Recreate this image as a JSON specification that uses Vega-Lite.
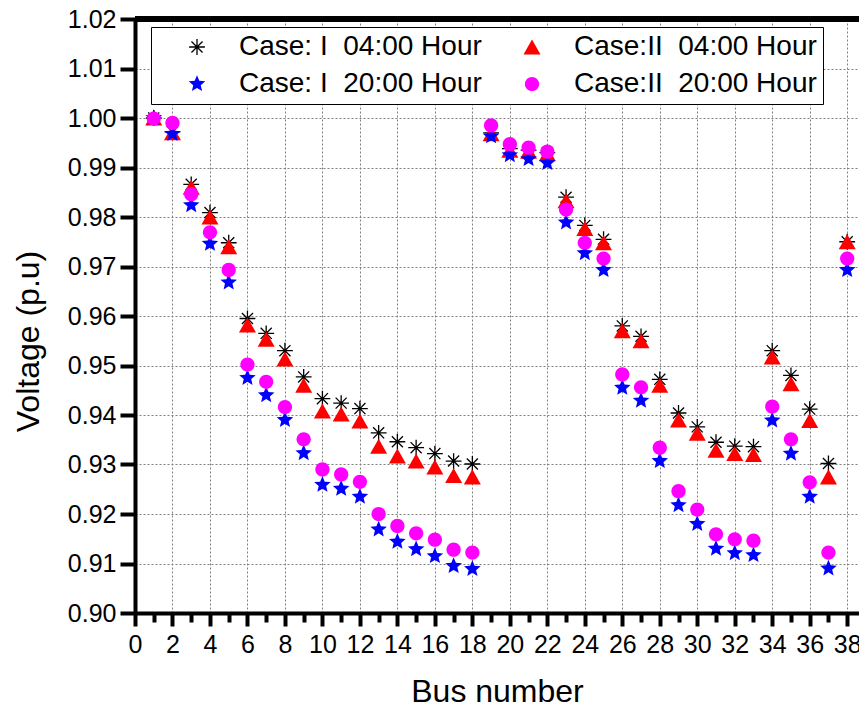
{
  "$schema": "https://vega.github.io/schema/vega-lite/v6.json",
  "autosize": {"type": "none"},
  "padding": {"left": 135, "top": 19, "right": 0, "bottom": 100},
  "width": 724,
  "height": 594,
  "background": "white",
  "config": {
    "font": "Liberation Sans",
    "view": {"stroke": null},
    "legend": {
      "orient": "none", "legendX": 16, "legendY": 8, "columns": 2,
      "title": null, "strokeColor": "black", "fillColor": "white",
      "padding": 6, "rowPadding": 9, "columnPadding": 10,
      "symbolOffset": 26, "labelOffset": 28, "symbolSize": 250, "symbolStrokeWidth": 1.3,
      "labelFontSize": 28, "labelColor": "black", "labelLimit": 0
    }
  },
  "data": {"values": [
    {"b":1,"s":"I04","v":1.0},{"b":2,"s":"I04","v":0.9972},{"b":3,"s":"I04","v":0.9866},{"b":4,"s":"I04","v":0.9809},{"b":5,"s":"I04","v":0.9748},{"b":6,"s":"I04","v":0.9595},{"b":7,"s":"I04","v":0.9565},{"b":8,"s":"I04","v":0.953},{"b":9,"s":"I04","v":0.9477},{"b":10,"s":"I04","v":0.9433},{"b":11,"s":"I04","v":0.9424},{"b":12,"s":"I04","v":0.9413},{"b":13,"s":"I04","v":0.9364},{"b":14,"s":"I04","v":0.9346},{"b":15,"s":"I04","v":0.9334},{"b":16,"s":"I04","v":0.9322},{"b":17,"s":"I04","v":0.9307},{"b":18,"s":"I04","v":0.9301},{"b":19,"s":"I04","v":0.997},{"b":20,"s":"I04","v":0.9938},{"b":21,"s":"I04","v":0.9935},{"b":22,"s":"I04","v":0.993},{"b":23,"s":"I04","v":0.984},{"b":24,"s":"I04","v":0.9783},{"b":25,"s":"I04","v":0.9755},{"b":26,"s":"I04","v":0.958},{"b":27,"s":"I04","v":0.9559},{"b":28,"s":"I04","v":0.9472},{"b":29,"s":"I04","v":0.9404},{"b":30,"s":"I04","v":0.9376},{"b":31,"s":"I04","v":0.9345},{"b":32,"s":"I04","v":0.9337},{"b":33,"s":"I04","v":0.9336},{"b":34,"s":"I04","v":0.953},{"b":35,"s":"I04","v":0.948},{"b":36,"s":"I04","v":0.9412},{"b":37,"s":"I04","v":0.9302},{"b":38,"s":"I04","v":0.975},
    {"b":1,"s":"II04","v":1.0},{"b":2,"s":"II04","v":0.997},{"b":3,"s":"II04","v":0.986},{"b":4,"s":"II04","v":0.98},{"b":5,"s":"II04","v":0.974},{"b":6,"s":"II04","v":0.9582},{"b":7,"s":"II04","v":0.9553},{"b":8,"s":"II04","v":0.9513},{"b":9,"s":"II04","v":0.946},{"b":10,"s":"II04","v":0.9408},{"b":11,"s":"II04","v":0.9402},{"b":12,"s":"II04","v":0.9388},{"b":13,"s":"II04","v":0.9337},{"b":14,"s":"II04","v":0.9317},{"b":15,"s":"II04","v":0.9307},{"b":16,"s":"II04","v":0.9295},{"b":17,"s":"II04","v":0.9278},{"b":18,"s":"II04","v":0.9275},{"b":19,"s":"II04","v":0.9968},{"b":20,"s":"II04","v":0.9935},{"b":21,"s":"II04","v":0.9933},{"b":22,"s":"II04","v":0.9928},{"b":23,"s":"II04","v":0.9833},{"b":24,"s":"II04","v":0.9777},{"b":25,"s":"II04","v":0.9748},{"b":26,"s":"II04","v":0.957},{"b":27,"s":"II04","v":0.955},{"b":28,"s":"II04","v":0.946},{"b":29,"s":"II04","v":0.939},{"b":30,"s":"II04","v":0.9363},{"b":31,"s":"II04","v":0.9329},{"b":32,"s":"II04","v":0.9322},{"b":33,"s":"II04","v":0.932},{"b":34,"s":"II04","v":0.9517},{"b":35,"s":"II04","v":0.9463},{"b":36,"s":"II04","v":0.9389},{"b":37,"s":"II04","v":0.9275},{"b":38,"s":"II04","v":0.975},
    {"b":1,"s":"I20","v":1.0},{"b":2,"s":"I20","v":0.9968},{"b":3,"s":"I20","v":0.9824},{"b":4,"s":"I20","v":0.9746},{"b":5,"s":"I20","v":0.9668},{"b":6,"s":"I20","v":0.9475},{"b":7,"s":"I20","v":0.944},{"b":8,"s":"I20","v":0.939},{"b":9,"s":"I20","v":0.9323},{"b":10,"s":"I20","v":0.9259},{"b":11,"s":"I20","v":0.9251},{"b":12,"s":"I20","v":0.9235},{"b":13,"s":"I20","v":0.9169},{"b":14,"s":"I20","v":0.9144},{"b":15,"s":"I20","v":0.9129},{"b":16,"s":"I20","v":0.9115},{"b":17,"s":"I20","v":0.9095},{"b":18,"s":"I20","v":0.9089},{"b":19,"s":"I20","v":0.9963},{"b":20,"s":"I20","v":0.9925},{"b":21,"s":"I20","v":0.9917},{"b":22,"s":"I20","v":0.9909},{"b":23,"s":"I20","v":0.9789},{"b":24,"s":"I20","v":0.9727},{"b":25,"s":"I20","v":0.9693},{"b":26,"s":"I20","v":0.9455},{"b":27,"s":"I20","v":0.9429},{"b":28,"s":"I20","v":0.9307},{"b":29,"s":"I20","v":0.9218},{"b":30,"s":"I20","v":0.918},{"b":31,"s":"I20","v":0.913},{"b":32,"s":"I20","v":0.9121},{"b":33,"s":"I20","v":0.9117},{"b":34,"s":"I20","v":0.9389},{"b":35,"s":"I20","v":0.9322},{"b":36,"s":"I20","v":0.9235},{"b":37,"s":"I20","v":0.909},{"b":38,"s":"I20","v":0.9693},
    {"b":1,"s":"II20","v":0.9999},{"b":2,"s":"II20","v":0.999},{"b":3,"s":"II20","v":0.9846},{"b":4,"s":"II20","v":0.9769},{"b":5,"s":"II20","v":0.9693},{"b":6,"s":"II20","v":0.9502},{"b":7,"s":"II20","v":0.9467},{"b":8,"s":"II20","v":0.9416},{"b":9,"s":"II20","v":0.9351},{"b":10,"s":"II20","v":0.929},{"b":11,"s":"II20","v":0.928},{"b":12,"s":"II20","v":0.9265},{"b":13,"s":"II20","v":0.92},{"b":14,"s":"II20","v":0.9176},{"b":15,"s":"II20","v":0.9161},{"b":16,"s":"II20","v":0.9148},{"b":17,"s":"II20","v":0.9128},{"b":18,"s":"II20","v":0.9122},{"b":19,"s":"II20","v":0.9985},{"b":20,"s":"II20","v":0.9947},{"b":21,"s":"II20","v":0.994},{"b":22,"s":"II20","v":0.9932},{"b":23,"s":"II20","v":0.9815},{"b":24,"s":"II20","v":0.9748},{"b":25,"s":"II20","v":0.9716},{"b":26,"s":"II20","v":0.9482},{"b":27,"s":"II20","v":0.9456},{"b":28,"s":"II20","v":0.9334},{"b":29,"s":"II20","v":0.9246},{"b":30,"s":"II20","v":0.9209},{"b":31,"s":"II20","v":0.9159},{"b":32,"s":"II20","v":0.9149},{"b":33,"s":"II20","v":0.9146},{"b":34,"s":"II20","v":0.9417},{"b":35,"s":"II20","v":0.9351},{"b":36,"s":"II20","v":0.9264},{"b":37,"s":"II20","v":0.9122},{"b":38,"s":"II20","v":0.9716}
  ]},
  "layer": [
    {
      "mark": {"type": "rule", "color": "black", "strokeWidth": 5},
      "encoding": {"y": {"datum": 1.02, "type": "quantitative"}}
    },
    {
      "mark": {"type": "point", "size": 250, "strokeWidth": 1.3, "opacity": 1},
      "encoding": {
        "x": {
          "field": "b", "type": "quantitative",
          "scale": {"domain": [0, 38.63], "nice": false, "zero": false},
          "axis": {
            "values": [0,1,2,3,4,5,6,7,8,9,10,11,12,13,14,15,16,17,18,19,20,21,22,23,24,25,26,27,28,29,30,31,32,33,34,35,36,37,38],
            "labelExpr": "datum.value % 2 == 0 ? datum.label : ''",
            "labelOverlap": false, "labelFlush": false, "labelBound": false,
            "labelFontSize": 25, "labelColor": "black", "labelPadding": 6,
            "tickSize": {"condition": {"test": "datum.value % 2 == 1", "value": 9}, "value": 13},
            "tickColor": "black", "tickWidth": 4,
            "domainColor": "black", "domainWidth": 4,
            "grid": true, "gridDash": [2, 2], "gridColor": "#808080", "gridWidth": 1,
            "gridOpacity": {"condition": {"test": "datum.value % 2 == 1", "value": 0}, "value": 1},
            "title": "Bus number", "titleFontSize": 32, "titleFontWeight": "normal", "titleColor": "black",
            "titleY": 78, "titleBaseline": "middle"
          }
        },
        "y": {
          "field": "v", "type": "quantitative",
          "scale": {"domain": [0.9, 1.02], "nice": false, "zero": false},
          "axis": {
            "values": [0.9,0.905,0.91,0.915,0.92,0.925,0.93,0.935,0.94,0.945,0.95,0.955,0.96,0.965,0.97,0.975,0.98,0.985,0.99,0.995,1.0,1.005,1.01,1.015,1.02],
            "labelExpr": "round(datum.value*200) % 2 == 0 ? format(datum.value, '.2f') : ''",
            "labelOverlap": false, "labelBound": false, "labelFlush": false,
            "labelFontSize": 25, "labelColor": "black", "labelPadding": 4,
            "tickSize": {"condition": {"test": "round(datum.value*200) % 2 == 1", "value": 8}, "value": 15},
            "tickColor": "black", "tickWidth": 4,
            "domainColor": "black", "domainWidth": 4,
            "grid": true, "gridDash": [2, 2], "gridColor": "#808080", "gridWidth": 1,
            "gridOpacity": {"condition": {"test": "round(datum.value*200) % 2 == 1", "value": 0}, "value": 1},
            "title": "Voltage (p.u)", "titleFontSize": 32, "titleFontWeight": "normal", "titleColor": "black",
            "titleX": -107, "titleY": 322, "titleAngle": -90, "titleAlign": "center", "titleBaseline": "middle"
          }
        },
        "shape": {
          "field": "s", "type": "nominal",
          "scale": {"domain": ["I04", "I20", "II04", "II20"], "range": ["M-1,0L1,0M0,-1L0,1M-0.7,-0.7L0.7,0.7M-0.7,0.7L0.7,-0.7", "M0,-1.1L0.291,-0.4L1.046,-0.34L0.471,0.153L0.647,0.89L0,0.495L-0.647,0.89L-0.471,0.153L-1.046,-0.34L-0.291,-0.4Z", "M0,-0.95L1.075,0.95L-1.075,0.95Z", "M-0.9,0A0.9,0.9 0 1,0 0.9,0A0.9,0.9 0 1,0 -0.9,0Z"]},
          "legend": {"labelExpr": "{'I04':'Case: I\u00a0 04:00 Hour','II04':'Case:II\u00a0 04:00 Hour','I20':'Case: I\u00a0 20:00 Hour','II20':'Case:II\u00a0 20:00 Hour'}[datum.value]"}
        },
        "fill": {
          "field": "s", "type": "nominal",
          "scale": {"domain": ["I04", "I20", "II04", "II20"], "range": ["transparent", "#0000ff", "#ff0000", "#ff00ff"]},
          "legend": {"labelExpr": "{'I04':'Case: I\u00a0 04:00 Hour','II04':'Case:II\u00a0 04:00 Hour','I20':'Case: I\u00a0 20:00 Hour','II20':'Case:II\u00a0 20:00 Hour'}[datum.value]"}
        },
        "stroke": {
          "field": "s", "type": "nominal",
          "scale": {"domain": ["I04", "I20", "II04", "II20"], "range": ["#000000", "transparent", "transparent", "transparent"]},
          "legend": {"labelExpr": "{'I04':'Case: I\u00a0 04:00 Hour','II04':'Case:II\u00a0 04:00 Hour','I20':'Case: I\u00a0 20:00 Hour','II20':'Case:II\u00a0 20:00 Hour'}[datum.value]"}
        }
      }
    }
  ]
}
